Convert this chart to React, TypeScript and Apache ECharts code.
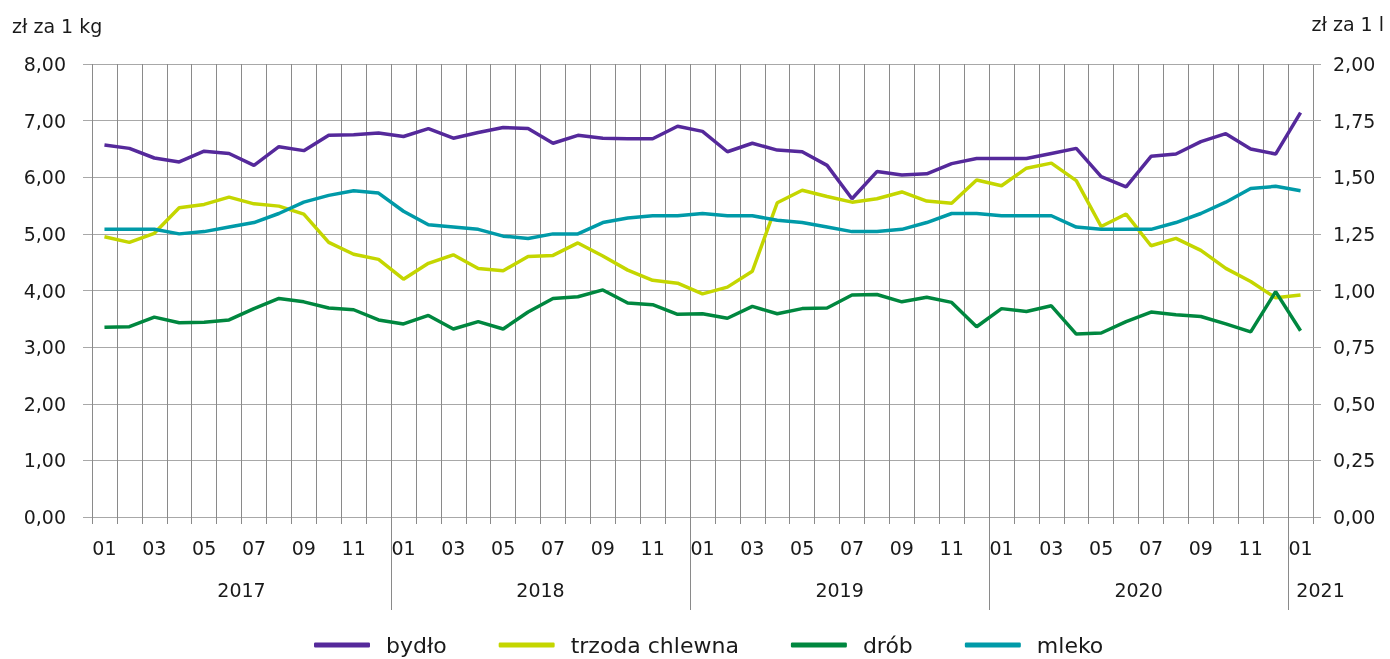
import { useEffect, useRef } from 'react';
import * as echarts from 'echarts';

const YEARS = ['2017', '2018', '2019', '2020', '2021'];
const MONTHS_IN_YEAR = [12, 12, 12, 12, 1];
const MONTH_LABELS = ['01', '02', '03', '04', '05', '06', '07', '08', '09', '10', '11', '12'];

const SERIES_NAMES = ['bydło', 'trzoda chlewna', 'drób', 'mleko'];

const BYDLO = [
  6.57, 6.51, 6.34, 6.27, 6.46, 6.42, 6.21, 6.54, 6.47, 6.74, 6.75, 6.78,
  6.72, 6.86, 6.69, 6.79, 6.88, 6.86, 6.6, 6.74, 6.69, 6.68, 6.68, 6.9,
  6.81, 6.45, 6.6, 6.48, 6.45, 6.21, 5.62, 6.1, 6.04, 6.06, 6.24, 6.33,
  6.33, 6.33, 6.42, 6.51, 6.01, 5.83, 6.37, 6.41, 6.63, 6.77, 6.5, 6.41,
  7.14,
];
const TRZODA = [
  4.95, 4.85, 5.01, 5.46, 5.52, 5.65, 5.53, 5.49, 5.35, 4.85, 4.64, 4.55,
  4.2, 4.48, 4.63, 4.39, 4.35, 4.6, 4.62, 4.84, 4.61, 4.36, 4.18, 4.13,
  3.94, 4.06, 4.34, 5.55, 5.77, 5.66, 5.56, 5.62, 5.74, 5.58, 5.54, 5.95,
  5.85, 6.16, 6.25, 5.94, 5.13, 5.35, 4.79, 4.92, 4.71, 4.39, 4.16, 3.87,
  3.92,
];
const DROB = [
  3.35, 3.36, 3.53, 3.43, 3.44, 3.48, 3.68, 3.86, 3.8, 3.69, 3.66, 3.48,
  3.41, 3.56, 3.32, 3.45, 3.32, 3.62, 3.86, 3.89, 4.01, 3.78, 3.75, 3.58,
  3.59, 3.51, 3.72, 3.59, 3.68, 3.69, 3.92, 3.93, 3.8, 3.88, 3.79, 3.36,
  3.68, 3.63, 3.73, 3.23, 3.25, 3.45, 3.62, 3.57, 3.54, 3.41, 3.27, 3.98,
  3.29,
];
const MLEKO = [
  1.27, 1.27, 1.27, 1.25, 1.26, 1.28, 1.3, 1.34, 1.39, 1.42, 1.44, 1.43,
  1.35, 1.29, 1.28, 1.27, 1.24, 1.23, 1.25, 1.25, 1.3, 1.32, 1.33, 1.33,
  1.34, 1.33, 1.33, 1.31, 1.3, 1.28, 1.26, 1.26, 1.27, 1.3, 1.34, 1.34,
  1.33, 1.33, 1.33, 1.28, 1.27, 1.27, 1.27, 1.3, 1.34, 1.39, 1.45, 1.46,
  1.44,
];

const COLORS = ['#55299b', '#c4d600', '#00873f', '#009aa8'];
const FONT = 'DejaVu Sans';
const TEXT = '#1a1a1a';

export default function App() {
  const ref = useRef<HTMLDivElement>(null);

  useEffect(() => {
    if (!ref.current) return;
    const chart = echarts.init(ref.current, undefined, { renderer: 'svg' });

    const categories: string[] = [];
    const yearCenters: number[] = [];
    const yearBounds: number[] = [];
    let start = 0;
    YEARS.forEach((_, yi) => {
      const n = MONTHS_IN_YEAR[yi];
      for (let m = 0; m < n; m++) categories.push(MONTH_LABELS[m]);
      yearCenters.push(start + n / 2);
      if (start > 0) yearBounds.push(start);
      start += n;
    });
    const total = categories.length;

    const fmt = (v: number) => v.toFixed(2).replace('.', ',');
    const vGrid = '#8a8a8a';
    const hGrid = '#a8a8a8';

    const seriesData = [BYDLO, TRZODA, DROB, MLEKO];

    chart.setOption({
      animation: false,
      textStyle: { fontFamily: FONT },
      grid: { left: 92, right: 77, top: 64, bottom: 142 },
      graphic: [
        {
          type: 'text',
          left: 12,
          top: 16,
          style: { text: 'zł za 1 kg', font: `19px "${FONT}"`, fill: TEXT },
        },
        {
          type: 'text',
          right: 6,
          top: 14,
          style: { text: 'zł za 1 l', font: `19px "${FONT}"`, fill: TEXT },
        },
      ],
      legend: {
        left: 314,
        top: 634,
        padding: 0,
        itemWidth: 56,
        itemHeight: 5,
        itemGap: 52,
        icon: 'roundRect',
        data: SERIES_NAMES,
        textStyle: {
          fontFamily: FONT,
          fontSize: 22,
          color: TEXT,
          padding: [0, 0, 0, 11],
        },
      },
      xAxis: [
        {
          type: 'category',
          data: categories,
          boundaryGap: true,
          axisLine: { show: true, lineStyle: { color: hGrid, width: 1 } },
          axisTick: { show: true, interval: 0, length: 7, lineStyle: { color: vGrid } },
          axisLabel: {
            interval: 1,
            margin: 21,
            fontSize: 19,
            fontFamily: FONT,
            color: TEXT,
          },
          splitLine: { show: true, interval: 0, lineStyle: { color: vGrid, width: 1 } },
        },
        {
          type: 'value',
          min: 0,
          max: total,
          position: 'bottom',
          axisLine: { show: false },
          splitLine: { show: false },
          axisTick: {
            show: true,
            customValues: yearBounds,
            length: 93,
            lineStyle: { color: vGrid },
          },
          axisLabel: {
            customValues: yearCenters,
            margin: 63,
            fontSize: 19,
            fontFamily: FONT,
            color: TEXT,
            formatter: (v: number) => {
              const idx = yearCenters.findIndex((c) => Math.abs(c - v) < 1e-6);
              if (idx < 0) return '';
              if (MONTHS_IN_YEAR[idx] < 12) return `{p|${YEARS[idx]}}`;
              return YEARS[idx];
            },
            rich: {
              p: {
                padding: [0, 0, 0, 40],
                fontSize: 19,
                fontFamily: FONT,
                color: TEXT,
              },
            },
          },
        },
      ],
      yAxis: [
        {
          type: 'value',
          min: 0,
          max: 8,
          interval: 1,
          position: 'left',
          axisLine: { show: false },
          axisTick: { show: true, length: 9, lineStyle: { color: hGrid } },
          axisLabel: {
            formatter: fmt,
            margin: 26,
            fontSize: 19,
            fontFamily: FONT,
            color: TEXT,
          },
          splitLine: { show: true, lineStyle: { color: hGrid, width: 1 } },
        },
        {
          type: 'value',
          min: 0,
          max: 2,
          interval: 0.25,
          position: 'right',
          axisLine: { show: false },
          axisTick: { show: true, length: 8, lineStyle: { color: hGrid } },
          axisLabel: {
            formatter: fmt,
            margin: 20,
            fontSize: 19,
            fontFamily: FONT,
            color: TEXT,
          },
          splitLine: { show: false },
        },
      ],
      series: SERIES_NAMES.map((name, i) => ({
        name,
        type: 'line',
        data: seriesData[i],
        xAxisIndex: 0,
        yAxisIndex: i === 3 ? 1 : 0,
        symbol: 'none',
        smooth: false,
        color: COLORS[i],
        lineStyle: { color: COLORS[i], width: 3.5 },
        itemStyle: { color: COLORS[i] },
      })),
    });

    return () => chart.dispose();
  }, []);

  return (
    <div
      ref={ref}
      style={{ position: 'fixed', left: 0, top: 0, width: 1390, height: 659 }}
    />
  );
}
